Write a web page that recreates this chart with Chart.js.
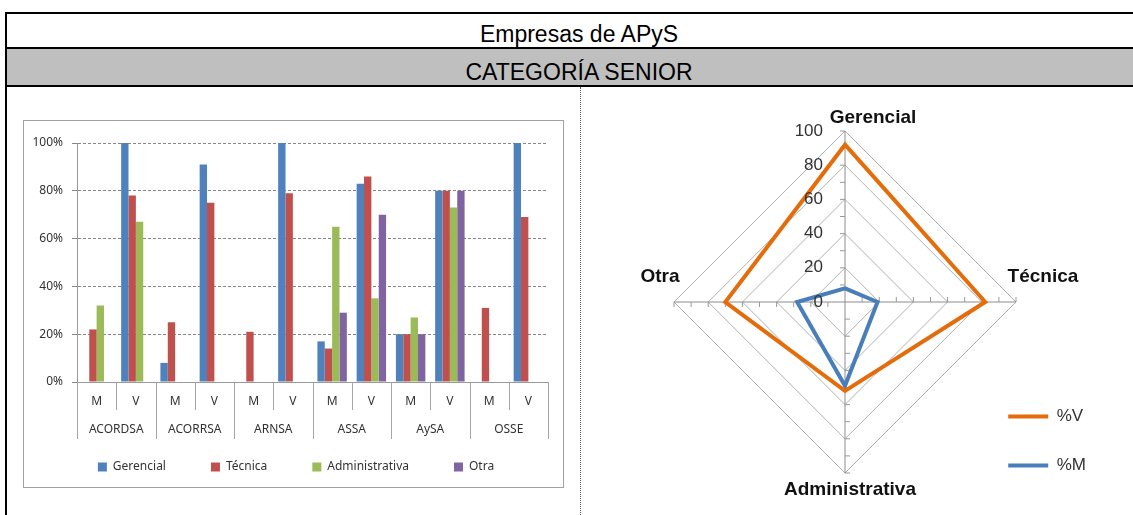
<!DOCTYPE html>
<html lang="es">
<head>
<meta charset="utf-8">
<title>Empresas de APyS - Categoría Senior</title>
<script src="https://cdn.jsdelivr.net/npm/chart.js@4.4.1/dist/chart.umd.min.js"></script>
<style>
  html, body { margin: 0; padding: 0; background: #fff; overflow: hidden; }
  body { width: 1133px; height: 515px; position: relative; font-family: "Liberation Sans", Arial, sans-serif; }
  .rule { position: absolute; background: #000; }
  .head { position: absolute; left: 7px; width: 1144px; height: 34px; line-height: 34px; text-align: center; font-size: 23px; color: #000; }
  #band { position: absolute; left: 7px; top: 49px; width: 1144px; height: 36px; background: #bfbfbf; }
  #divider { position: absolute; left: 580px; top: 87px; height: 428px; border-left: 1px dotted #555; }
  #barFrame { position: absolute; left: 23px; top: 120px; width: 539px; height: 366px; border: 1px solid #a0a0a0; }
  #radarBox { position: absolute; left: 582px; top: 88px; width: 551px; height: 427px; }
</style>
</head>
<body>
<div id="band"></div>
<div class="rule" style="left:5px; top:12px; width:1150px; height:2px;"></div>
<div class="rule" style="left:5px; top:12px; width:2px; height:503px;"></div>
<div class="rule" style="left:5px; top:47px; width:1150px; height:2px;"></div>
<div class="rule" style="left:5px; top:85px; width:1150px; height:2px;"></div>
<div class="head" style="top:17px;">Empresas de APyS</div>
<div class="head" style="top:55px;">CATEGORÍA SENIOR</div>
<div id="divider"></div>

<div id="barFrame"><canvas id="bars"></canvas></div>
<div id="radarBox"><canvas id="radar"></canvas></div>

<script>
// bar chart data (percent per company, M / V)
const categories = ['M', 'V', 'M', 'V', 'M', 'V', 'M', 'V', 'M', 'V', 'M', 'V'];
const companies = ['ACORDSA', 'ACORRSA', 'ARNSA', 'ASSA', 'AySA', 'OSSE'];
const gerencial = [0, 100, 8, 91, 0, 100, 17, 83, 20, 80, 0, 100];
const tecnica = [22, 78, 25, 75, 21, 79, 14, 86, 20, 80, 31, 69];
const administrativa = [32, 67, 0, 0, 0, 0, 65, 35, 27, 73, 0, 0];
const otra = [0, 0, 0, 0, 0, 0, 29, 70, 20, 80, 0, 0];
const barTicks = [0, 20, 40, 60, 80, 100];

// radar data
const radarLabels = ['Gerencial', 'Técnica', 'Administrativa', 'Otra'];
const pctV = [92, 82, 52, 70];
const pctM = [8, 19, 49, 28];
const radarTicks = [0, 20, 40, 60, 80, 100];

Chart.defaults.font.family = '"Noto Sans", sans-serif';
Chart.defaults.color = '#333';

const smallFont = { family: '"Noto Sans", sans-serif', size: 12 };

// separators of the two-level category axis (M/V and company), legend nudge
const groupLines = {
  id: 'groupLines',
  afterLayout(chart) {
    const lg = chart.legend;
    lg.top -= 23; lg.bottom -= 23;
    lg.left += 10; lg.right += 10;
  },
  afterDraw(chart) {
    const x = chart.scales.x;
    const a = chart.chartArea;
    const ctx = chart.ctx;
    const step = x.width / categories.length;
    ctx.save();
    ctx.strokeStyle = '#a6a6a6';
    ctx.lineWidth = 1;
    for (let i = 0; i <= categories.length; i++) {
      const px = Math.round(x.left + i * step) + 0.5;
      ctx.beginPath();
      ctx.moveTo(px, a.bottom);
      ctx.lineTo(px, a.bottom + (i % 2 === 0 ? 57 : 28));
      ctx.stroke();
    }
    ctx.restore();
  }
};

new Chart(document.getElementById('bars'), {
  type: 'bar',
  data: {
    labels: categories,
    datasets: [
      { label: 'Gerencial', data: gerencial, backgroundColor: '#4f81bd' },
      { label: 'Técnica', data: tecnica, backgroundColor: '#c0504d' },
      { label: 'Administrativa', data: administrativa, backgroundColor: '#9bbb59' },
      { label: 'Otra', data: otra, backgroundColor: '#8064a2' }
    ]
  },
  options: {
    responsive: true,
    maintainAspectRatio: false,
    animation: false,
    events: [],
    datasets: { bar: { categoryPercentage: 0.75, barPercentage: 1, borderWidth: 0 } },
    layout: { padding: { left: 0, right: 15, top: 22, bottom: -19 } },
    plugins: {
      legend: {
        position: 'bottom',
        labels: { boxWidth: 9, boxHeight: 9, padding: 45, color: '#333', font: smallFont }
      },
      tooltip: { enabled: false }
    },
    scales: {
      x: {
        grid: { display: false, drawTicks: false },
        border: { color: '#999' },
        ticks: { padding: 12, font: smallFont, maxRotation: 0, autoSkip: false },
        afterFit: s => { s.height = 28; }
      },
      x2: {
        type: 'category',
        position: 'bottom',
        labels: companies,
        offset: true,
        grid: { display: false, drawTicks: false },
        border: { display: false },
        ticks: { padding: 12, font: smallFont, maxRotation: 0, autoSkip: false },
        afterFit: s => { s.height = 29; }
      },
      y: {
        min: 0,
        max: 100,
        afterBuildTicks: s => { s.ticks = barTicks.map(v => ({ value: v })); },
        ticks: { callback: v => v + '%', padding: 9, font: smallFont },
        grid: { color: '#868686', tickLength: 5 },
        border: { color: '#999', dash: [3, 2] },
        afterFit: s => { s.width = 53; }
      }
    }
  },
  plugins: [groupLines]
});

// radar extras: legend placement, axis tick marks, tick labels and axis titles
const radarDecor = {
  id: 'radarDecor',
  afterLayout(chart) {
    const lg = chart.legend;
    const a = chart.chartArea;
    const w = lg.width, h = lg.height;
    lg.left = a.right - 41;
    lg.right = lg.left + w;
    lg.top = a.top + 246;
    lg.bottom = lg.top + h;
  },
  beforeDatasetsDraw(chart) {
    const r = chart.scales.r;
    const ctx = chart.ctx;
    ctx.save();
    ctx.strokeStyle = '#999';
    ctx.lineWidth = 1;
    for (let i = 0; i < radarLabels.length; i++) {
      const end = r.getPointPositionForValue(i, r.max);
      const dx = (end.x - r.xCenter) / r.drawingArea;
      const dy = (end.y - r.yCenter) / r.drawingArea;
      for (let k = 1; k < radarTicks.length; k++) {
        [(radarTicks[k - 1] + radarTicks[k]) / 2, radarTicks[k]].forEach(v => {
          const p = r.getPointPositionForValue(i, v);
          ctx.beginPath();
          ctx.moveTo(p.x, p.y);
          ctx.lineTo(p.x + dy * 5, p.y - dx * 5);
          ctx.stroke();
        });
      }
    }
    ctx.restore();
  },
  afterDatasetsDraw(chart) {
    const r = chart.scales.r;
    const ctx = chart.ctx;
    ctx.save();
    ctx.fillStyle = '#333';
    ctx.font = '17px "Liberation Sans", Arial, sans-serif';
    ctx.textAlign = 'right';
    ctx.textBaseline = 'middle';
    radarTicks.forEach(v => {
      ctx.fillText(String(v), r.xCenter - 22, r.yCenter - r.getDistanceFromCenterForValue(v));
    });
    const offsets = [[28, -13], [27, -25], [5, 17], [-14, -25]];
    ctx.fillStyle = '#111';
    ctx.font = 'bold 19px "Liberation Sans", Arial, sans-serif';
    ctx.textAlign = 'center';
    radarLabels.forEach((t, i) => {
      const p = r.getPointPositionForValue(i, r.max);
      ctx.fillText(t, p.x + offsets[i][0], p.y + offsets[i][1]);
    });
    ctx.restore();
  }
};

new Chart(document.getElementById('radar'), {
  type: 'radar',
  data: {
    labels: radarLabels,
    datasets: [
      { label: '%V', data: pctV, borderColor: '#e46c0a', backgroundColor: '#e46c0a',
        borderWidth: 4, pointRadius: 0, fill: false, borderCapStyle: 'round' },
      { label: '%M', data: pctM, borderColor: '#4a7ebb', backgroundColor: '#4a7ebb',
        borderWidth: 4, pointRadius: 0, fill: false, borderCapStyle: 'round' }
    ]
  },
  options: {
    responsive: true,
    maintainAspectRatio: false,
    animation: false,
    events: [],
    layout: { padding: { left: 92, right: -4, top: 42, bottom: 41 } },
    plugins: {
      legend: {
        position: 'right',
        align: 'start',
        labels: {
          usePointStyle: true,
          pointStyle: 'line',
          pointStyleWidth: 40,
          padding: 32,
          color: '#333',
          font: { family: '"Liberation Sans", Arial, sans-serif', size: 17 }
        }
      },
      tooltip: { enabled: false }
    },
    scales: {
      r: {
        min: 0,
        max: 100,
        afterBuildTicks: s => { s.ticks = radarTicks.map(v => ({ value: v })); },
        ticks: { display: false },
        pointLabels: { display: false },
        grid: { color: '#b0b0b0' },
        angleLines: { color: '#8c8c8c' }
      }
    }
  },
  plugins: [radarDecor]
});
</script>
</body>
</html>
